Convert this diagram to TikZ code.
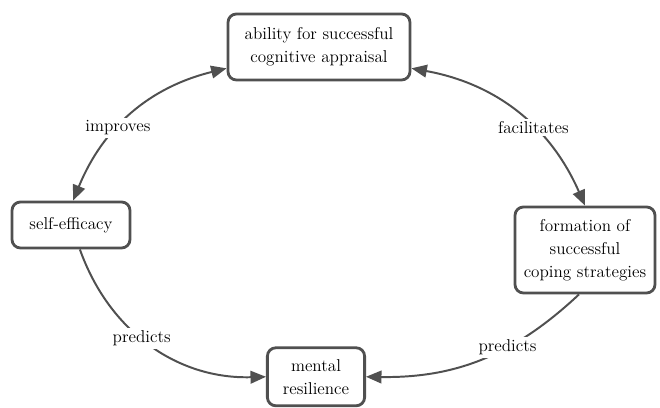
\documentclass[tikz,border=0pt]{standalone}
\usetikzlibrary{arrows.meta}

\begin{document}
\begin{tikzpicture}[
    concept/.style={draw=linecolor, line width=2pt, rounded corners=6pt, align=center, fill=white,
        font=\fontsize{12.2}{16.5}\selectfont, inner sep=2pt},
    link/.style={draw=linecolor, line width=1.4pt, -{Triangle[length=11pt, width=9pt]}},
    twolink/.style={link, {Triangle[length=11pt, width=9pt]}-{Triangle[length=11pt, width=9pt]}},
    linklabel/.style={fill=white, text=black, font=\fontsize{12.2}{16}\selectfont, inner sep=2pt}
]
            \definecolor{linecolor}{RGB}{80,80,80}
            \useasboundingbox (0,0) rectangle (16.5,10.2);

            % Valutazione cognitiva
            \node[concept, minimum width=4.55cm, minimum height=1.65cm] (appraisal) at (7.975,9.025) {ability for successful\\ cognitive appraisal};

            % Autoefficacia
            \node[concept, minimum width=2.95cm, minimum height=1.15cm] (selfeff) at (1.775,4.575) {self-efficacy};

            % Strategie di coping
            \node[concept, minimum width=3.5cm, minimum height=2.15cm] (coping) at (14.625,3.95) {formation of\\ successful\\ coping strategies};

            % Resilienza mentale
            \node[concept, minimum width=2.43cm, minimum height=1.45cm] (resilience) at (7.9,0.78) {mental\\ resilience};

            % Collegamenti
            \draw[twolink] (appraisal.193) to[bend right=27] node[linklabel, pos=0.6] {improves} (selfeff.85);
            \draw[twolink] (appraisal.-13) to[bend left=28] node[linklabel, pos=0.6] {facilitates} (coping.north);
            \draw[link] (selfeff.-70) to[bend right=36] node[linklabel, pos=0.45] {predicts} (resilience.west);
            \draw[link] ([xshift=-0.15cm]coping.south) to[bend left=22] node[linklabel, pos=0.37] {predicts} (resilience.east);
        \end{tikzpicture}
\end{document}
